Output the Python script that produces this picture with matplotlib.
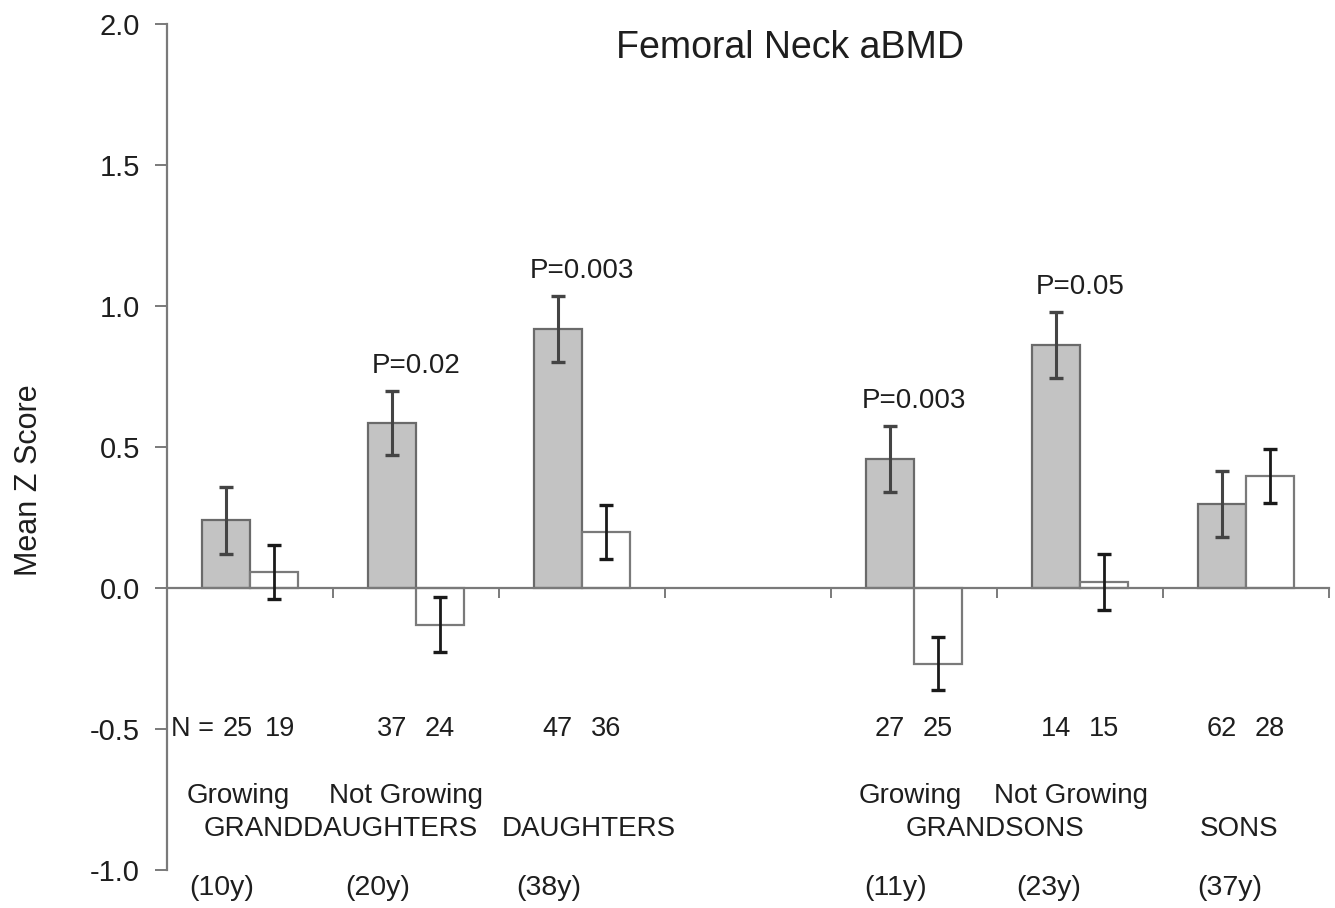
import matplotlib
matplotlib.use("Agg")
import matplotlib.pyplot as plt
import numpy as np

# ---- data ----
categories = ["Growing\nGranddaughters", "Not Growing\nGranddaughters", "Daughters", "",
              "Growing\nGrandsons", "Not Growing\nGrandsons", "Sons"]
group_idx = [0, 1, 2, 4, 5, 6]          # category slot of each bar pair
gray_means = [0.24, 0.585, 0.92, 0.457, 0.862, 0.298]
gray_err = [0.118, 0.115, 0.117, 0.117, 0.117, 0.116]
white_means = [0.057, -0.13, 0.199, -0.268, 0.02, 0.398]
white_err = [0.096, 0.098, 0.095, 0.095, 0.099, 0.096]
n_gray = [25, 37, 47, 27, 14, 62]
n_white = [19, 24, 36, 25, 15, 28]
p_text = ["P=0.02", "P=0.003", "P=0.003", "P=0.05"]
p_groups = [1, 2, 4, 5]                 # category slot of each P label
ages = ["(10y)", "(20y)", "(38y)", "(11y)", "(23y)", "(37y)"]
yticks = [-1.0, -0.5, 0.0, 0.5, 1.0, 1.5, 2.0]

plt.rcParams['font.family'] = ['Liberation Sans', 'DejaVu Sans']
TXT = '#1e1e1e'

fig = plt.figure(figsize=(13.35, 9.08), dpi=100)
ax = fig.add_axes([167/1335, 1-870/908, 1162/1335, 846/908])

w = 0.29
x = np.array(group_idx, dtype=float)
gx = x - w/2
wx = x + w/2
ax.bar(gx, gray_means, width=w, color='#c3c3c3', edgecolor='#6a6a6a', linewidth=1.6, zorder=2)
ax.bar(wx, white_means, width=w, color='white', edgecolor='#7a7a7a', linewidth=1.6, zorder=2)
ax.errorbar(gx, gray_means, yerr=gray_err, fmt='none', ecolor='#444444',
            elinewidth=2.2, capsize=4.8, capthick=2.4, zorder=3)
ax.errorbar(wx, white_means, yerr=white_err, fmt='none', ecolor='#1a1a1a',
            elinewidth=2.0, capsize=4.8, capthick=2.4, zorder=3)

ax.set_xlim(-0.5, 6.5)
ax.set_ylim(-1.0, 2.0)

for s in ['top', 'right']:
    ax.spines[s].set_visible(False)
ax.spines['bottom'].set_position(('data', 0))
for s in ['left', 'bottom']:
    ax.spines[s].set_color('#7a7a7a')
    ax.spines[s].set_linewidth(1.6)

ax.set_xticks(np.arange(-0.5, 7.0, 1.0))
ax.set_xticklabels([])
ax.tick_params(axis='x', direction='out', length=7, width=1.4, color='#7a7a7a')
ax.set_yticks(yticks)
ax.set_yticklabels([f"{v:.1f}" for v in yticks])
ax.tick_params(axis='y', direction='out', length=8.5, width=1.4, color='#7a7a7a',
               labelsize=21, labelcolor=TXT, pad=11)

# P-value labels
for txt, g in zip(p_text, p_groups):
    k = group_idx.index(g)
    ax.text(g, gray_means[k] + gray_err[k] + 0.088, txt, ha='center', va='center',
            fontsize=20, color=TXT)

# N labels
for k in range(len(group_idx)):
    dg, dw = (12, 6) if k == 0 else (0, 0)
    ax.annotate(str(n_gray[k]), xy=(gx[k], -0.5), xytext=(dg, 0), textcoords='offset pixels',
                ha='center', va='center', fontsize=19.5, color=TXT)
    ax.annotate(str(n_white[k]), xy=(wx[k], -0.5), xytext=(dw, 0), textcoords='offset pixels',
                ha='center', va='center', fontsize=19.5, color=TXT)
ax.annotate("N =", xy=(gx[0], -0.5), xytext=(-12, 0), textcoords='offset pixels',
            ha='right', va='center', fontsize=19.5, color=TXT)

# group labels
sub = [("Growing", -0.072), ("Not Growing", 0.94), ("Growing", 3.976), ("Not Growing", 4.946)]
for t, xx in sub:
    ax.text(xx, -0.738, t, ha='center', va='center', fontsize=20, color=TXT)
main = [("GRANDDAUGHTERS", 0.548), ("DAUGHTERS", 2.04), ("GRANDSONS", 4.49), ("SONS", 5.96)]
for t, xx in main:
    ax.text(xx, -0.855, t, ha='center', va='center', fontsize=20, color=TXT)
age_x = [-0.17, 0.77, 1.80, 3.886, 4.81, 5.90]
for t, xx in zip(ages, age_x):
    ax.text(xx, -1.063, t, ha='center', va='center', fontsize=20.5, color=TXT, clip_on=False)

fig.text(790/1335, 1-48/908, "Femoral Neck aBMD", ha='center', va='center', fontsize=27, color=TXT)
fig.text(29/1335, 1-480/908, "Mean Z Score", ha='center', va='center', rotation=90,
         fontsize=22, color=TXT)

fig.savefig("out.png", dpi=100)
